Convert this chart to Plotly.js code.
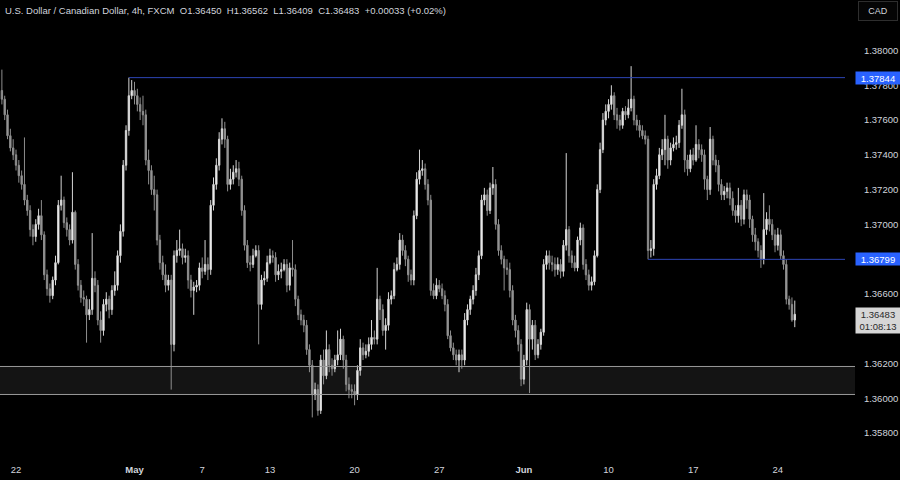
<!DOCTYPE html>
<html><head><meta charset="utf-8">
<script src="https://cdn.plot.ly/plotly-3.0.1.min.js"></script>
<style>html,body{margin:0;padding:0;background:#000;}#chart{width:900px;height:480px;}</style>
</head><body><div id="chart"></div>
<script>
// USD/CAD 4h, FXCM — OHLC per bar (first bar = Apr 19, last bar = Jun 25)
const openP = [1.3777,1.3772,1.3763,1.3751,1.3744,1.3740,1.3734,1.3728,1.3723,1.3714,
1.3708,1.3697,1.3693,1.3700,1.3705,1.3694,1.3671,1.3663,1.3659,1.3668,
1.3678,1.3711,1.3714,1.3701,1.3697,1.3691,1.3707,1.3677,1.3665,1.3658,
1.3657,1.3648,1.3651,1.3669,1.3665,1.3645,1.3639,1.3654,1.3657,1.3651,
1.3662,1.3665,1.3682,1.3696,1.3734,1.3754,1.3774,1.3777,1.3774,1.3769,
1.3765,1.3763,1.3737,1.3731,1.3720,1.3717,1.3691,1.3678,1.3671,1.3665,
1.3668,1.3631,1.3682,1.3685,1.3686,1.3681,1.3682,1.3668,1.3662,1.3664,
1.3665,1.3675,1.3673,1.3677,1.3674,1.3711,1.3723,1.3734,1.3749,1.3755,
1.3749,1.3723,1.3726,1.3730,1.3732,1.3726,1.3708,1.3688,1.3678,1.3677,
1.3682,1.3685,1.3654,1.3668,1.3669,1.3678,1.3682,1.3681,1.3671,1.3673,
1.3674,1.3677,1.3665,1.3675,1.3674,1.3657,1.3648,1.3645,1.3642,1.3628,
1.3619,1.3602,1.3605,1.3593,1.3622,1.3613,1.3628,1.3619,1.3617,1.3622,
1.3625,1.3634,1.3622,1.3608,1.3605,1.3604,1.3602,1.3616,1.3629,1.3625,
1.3627,1.3631,1.3635,1.3634,1.3657,1.3651,1.3639,1.3642,1.3657,1.3659,
1.3674,1.3677,1.3691,1.3685,1.3680,1.3671,1.3668,1.3705,1.3726,1.3731,
1.3732,1.3723,1.3714,1.3662,1.3659,1.3665,1.3663,1.3659,1.3654,1.3636,
1.3629,1.3625,1.3622,1.3625,1.3622,1.3645,1.3651,1.3657,1.3662,1.3671,
1.3682,1.3714,1.3717,1.3708,1.3721,1.3723,1.3700,1.3685,1.3680,1.3675,
1.3674,1.3662,1.3645,1.3639,1.3631,1.3611,1.3622,1.3651,1.3634,1.3642,
1.3625,1.3631,1.3638,1.3677,1.3682,1.3678,1.3677,1.3674,1.3677,1.3673,
1.3688,1.3697,1.3682,1.3678,1.3675,1.3691,1.3698,1.3677,1.3671,1.3665,
1.3667,1.3682,1.3720,1.3743,1.3760,1.3765,1.3769,1.3774,1.3763,1.3760,
1.3757,1.3765,1.3763,1.3767,1.3772,1.3760,1.3757,1.3754,1.3751,1.3749,
1.3685,1.3686,1.3723,1.3728,1.3740,1.3743,1.3749,1.3737,1.3744,1.3746,
1.3747,1.3757,1.3763,1.3737,1.3732,1.3740,1.3737,1.3746,1.3743,1.3740,
1.3726,1.3720,1.3749,1.3737,1.3734,1.3723,1.3717,1.3719,1.3721,1.3715,
1.3708,1.3705,1.3711,1.3703,1.3717,1.3714,1.3703,1.3694,1.3690,1.3685,
1.3680,1.3697,1.3703,1.3700,1.3694,1.3688,1.3694,1.3682,1.3677,1.3657,
1.3654,1.36450];
const highP = [1.3789,1.3774,1.3766,1.3755,1.3749,1.3743,1.3737,1.3731,1.3750,1.3717,
1.3711,1.3700,1.3703,1.3709,1.3714,1.3696,1.3674,1.3666,1.3670,1.3682,
1.3714,1.3728,1.3716,1.3704,1.3700,1.3730,1.3708,1.3680,1.3668,1.3662,
1.3659,1.3657,1.3695,1.3673,1.3668,1.3650,1.3657,1.3661,1.3659,1.3665,
1.3673,1.3685,1.3700,1.3737,1.3757,1.37844,1.3783,1.3782,1.3778,1.3773,
1.3774,1.3766,1.3743,1.3734,1.3728,1.3720,1.3694,1.3682,1.3677,1.3671,
1.3671,1.3685,1.3691,1.3697,1.3689,1.3686,1.3685,1.3671,1.3667,1.3668,
1.3678,1.3681,1.3691,1.3681,1.3714,1.3727,1.3738,1.3753,1.3761,1.3759,
1.3751,1.3732,1.3734,1.3737,1.3736,1.3728,1.3711,1.3691,1.3682,1.3686,
1.3688,1.3688,1.3671,1.3673,1.3682,1.3686,1.3685,1.3684,1.3677,1.3678,
1.3680,1.3680,1.3678,1.3691,1.3677,1.3659,1.3651,1.3648,1.3645,1.3631,
1.3622,1.3609,1.3608,1.3625,1.3628,1.3639,1.3631,1.3623,1.3625,1.3639,
1.3640,1.3636,1.3625,1.3612,1.3608,1.3608,1.3619,1.3634,1.3632,1.3631,
1.3635,1.3645,1.3639,1.3675,1.3659,1.3654,1.3646,1.3661,1.3662,1.3678,
1.3681,1.3695,1.3694,1.3688,1.3682,1.3674,1.3708,1.3730,1.3743,1.3737,
1.3735,1.3726,1.3717,1.3666,1.3669,1.3668,1.3666,1.3662,1.3657,1.3639,
1.3632,1.3628,1.3628,1.3628,1.3649,1.3654,1.3659,1.3665,1.3675,1.3685,
1.3717,1.3721,1.3720,1.3724,1.3733,1.3726,1.3703,1.3688,1.3682,1.3680,
1.3678,1.3665,1.3648,1.3642,1.3634,1.3625,1.3655,1.3654,1.3645,1.3645,
1.3634,1.3640,1.3680,1.3685,1.3685,1.3682,1.3681,1.3681,1.3680,1.3691,
1.3741,1.3699,1.3685,1.3682,1.3693,1.3701,1.3700,1.3680,1.3674,1.3670,
1.3685,1.3723,1.3747,1.3764,1.3769,1.3772,1.3780,1.3776,1.3767,1.3763,
1.3767,1.3768,1.3772,1.3791,1.3774,1.3763,1.3760,1.3757,1.3754,1.3751,
1.3691,1.3726,1.3732,1.3744,1.3749,1.3763,1.3751,1.3747,1.3750,1.3751,
1.3760,1.3778,1.3766,1.3740,1.3743,1.3744,1.3757,1.3749,1.3746,1.3743,
1.3728,1.3756,1.3751,1.3740,1.3737,1.3726,1.3722,1.3724,1.3724,1.3719,
1.3711,1.3721,1.3714,1.3720,1.3720,1.3717,1.3705,1.3698,1.3692,1.3688,
1.3718,1.3707,1.3711,1.3703,1.3697,1.3698,1.3697,1.3685,1.3680,1.3659,
1.3658,1.36562];
const lowP = [1.3769,1.3760,1.3749,1.3742,1.3737,1.3731,1.3724,1.3720,1.3711,1.3705,
1.3693,1.3688,1.3690,1.3697,1.3691,1.3668,1.3659,1.3655,1.3657,1.3665,
1.3677,1.3708,1.3698,1.3693,1.3688,1.3689,1.3674,1.3662,1.3655,1.3653,
1.3632,1.3645,1.3648,1.3661,1.3642,1.3632,1.3636,1.3650,1.3646,1.3648,
1.3659,1.3662,1.3678,1.3693,1.3731,1.3751,1.3772,1.3769,1.3765,1.3760,
1.3757,1.3734,1.3723,1.3717,1.3708,1.3688,1.3674,1.3668,1.3661,1.3662,
1.3605,1.3627,1.3678,1.3682,1.3677,1.3678,1.3663,1.3658,1.3648,1.3661,
1.3662,1.3669,1.3671,1.3668,1.3671,1.3708,1.3720,1.3731,1.3746,1.3744,
1.3719,1.3720,1.3723,1.3727,1.3722,1.3705,1.3685,1.3675,1.3673,1.3675,
1.3681,1.3631,1.3651,1.3665,1.3667,1.3677,1.3678,1.3667,1.3668,1.3669,
1.3673,1.3661,1.3662,1.3670,1.3653,1.3645,1.3642,1.3638,1.3625,1.3615,
1.3589,1.3599,1.3590,1.3591,1.3608,1.3611,1.3615,1.3613,1.3615,1.3619,
1.3622,1.3617,1.3604,1.3600,1.3600,1.3596,1.3599,1.3613,1.3622,1.3623,
1.3624,1.3628,1.3631,1.3631,1.3645,1.3636,1.3628,1.3639,1.3654,1.3657,
1.3673,1.3674,1.3682,1.3676,1.3667,1.3665,1.3665,1.3703,1.3723,1.3728,
1.3720,1.3711,1.3659,1.3657,1.3657,1.3661,1.3657,1.3650,1.3634,1.3627,
1.3622,1.3619,1.3615,1.3617,1.3619,1.3642,1.3648,1.3654,1.3659,1.3668,
1.3680,1.3711,1.3705,1.3706,1.3717,1.3697,1.3682,1.3677,1.3662,1.3671,
1.3658,1.3642,1.3635,1.3627,1.3607,1.3608,1.3619,1.3603,1.3628,1.3622,
1.3623,1.3628,1.3636,1.3674,1.3674,1.3673,1.3670,1.3671,1.3669,1.3670,
1.3685,1.3678,1.3675,1.3673,1.3673,1.3688,1.3674,1.3668,1.3662,1.3662,
1.3665,1.3681,1.3718,1.3741,1.3757,1.3761,1.3766,1.3760,1.3755,1.3754,
1.3755,1.3760,1.3761,1.3765,1.3757,1.3754,1.3750,1.3749,1.3746,1.36799,
1.3681,1.3682,1.3720,1.3726,1.3737,1.3734,1.3732,1.3734,1.3742,1.3743,
1.3744,1.3755,1.3730,1.3728,1.3730,1.3734,1.3736,1.3738,1.3736,1.3720,
1.3714,1.3717,1.3734,1.3730,1.3719,1.3714,1.3714,1.3715,1.3711,1.3705,
1.3701,1.3701,1.3699,1.3700,1.3709,1.3698,1.3690,1.3685,1.3681,1.3675,
1.3677,1.3694,1.3696,1.3691,1.3684,1.3685,1.3680,1.3674,1.3654,1.3651,
1.3644,1.36409];
const closeP = [1.3772,1.3763,1.3751,1.3744,1.3740,1.3734,1.3728,1.3723,1.3714,1.3708,
1.3697,1.3693,1.3700,1.3705,1.3694,1.3671,1.3663,1.3659,1.3668,1.3678,
1.3711,1.3714,1.3701,1.3697,1.3691,1.3707,1.3677,1.3665,1.3658,1.3657,
1.3648,1.3651,1.3669,1.3665,1.3645,1.3639,1.3654,1.3657,1.3651,1.3662,
1.3665,1.3682,1.3696,1.3734,1.3754,1.3774,1.3777,1.3774,1.3769,1.3765,
1.3763,1.3737,1.3731,1.3720,1.3717,1.3691,1.3678,1.3671,1.3665,1.3668,
1.3631,1.3682,1.3685,1.3686,1.3681,1.3682,1.3668,1.3662,1.3664,1.3665,
1.3675,1.3673,1.3677,1.3674,1.3711,1.3723,1.3734,1.3749,1.3755,1.3749,
1.3723,1.3726,1.3730,1.3732,1.3726,1.3708,1.3688,1.3678,1.3677,1.3682,
1.3685,1.3654,1.3668,1.3669,1.3678,1.3682,1.3681,1.3671,1.3673,1.3674,
1.3677,1.3665,1.3675,1.3674,1.3657,1.3648,1.3645,1.3642,1.3628,1.3619,
1.3602,1.3605,1.3593,1.3622,1.3613,1.3628,1.3619,1.3617,1.3622,1.3625,
1.3634,1.3622,1.3608,1.3605,1.3604,1.3602,1.3616,1.3629,1.3625,1.3627,
1.3631,1.3635,1.3634,1.3657,1.3651,1.3639,1.3642,1.3657,1.3659,1.3674,
1.3677,1.3691,1.3685,1.3680,1.3671,1.3668,1.3705,1.3726,1.3731,1.3732,
1.3723,1.3714,1.3662,1.3659,1.3665,1.3663,1.3659,1.3654,1.3636,1.3629,
1.3625,1.3622,1.3625,1.3622,1.3645,1.3651,1.3657,1.3662,1.3671,1.3682,
1.3714,1.3717,1.3708,1.3721,1.3723,1.3700,1.3685,1.3680,1.3675,1.3674,
1.3662,1.3645,1.3639,1.3631,1.3611,1.3622,1.3651,1.3634,1.3642,1.3625,
1.3631,1.3638,1.3677,1.3682,1.3678,1.3677,1.3674,1.3677,1.3673,1.3688,
1.3697,1.3682,1.3678,1.3675,1.3691,1.3698,1.3677,1.3671,1.3665,1.3667,
1.3682,1.3720,1.3743,1.3760,1.3765,1.3769,1.3774,1.3763,1.3760,1.3757,
1.3765,1.3763,1.3767,1.3772,1.3760,1.3757,1.3754,1.3751,1.3749,1.3685,
1.3686,1.3723,1.3728,1.3740,1.3743,1.3749,1.3737,1.3744,1.3746,1.3747,
1.3757,1.3763,1.3737,1.3732,1.3740,1.3737,1.3746,1.3743,1.3740,1.3726,
1.3720,1.3749,1.3737,1.3734,1.3723,1.3717,1.3719,1.3721,1.3715,1.3708,
1.3705,1.3711,1.3703,1.3717,1.3714,1.3703,1.3694,1.3690,1.3685,1.3680,
1.3697,1.3703,1.3700,1.3694,1.3688,1.3694,1.3682,1.3677,1.3657,1.3654,
1.3645,1.36483];

// Date tick labels (bar index of the first bar of each labelled day)
const dayTickBars = [5, 47, 71, 95, 125, 155, 185, 215, 245, 275];
const dayTickLabels = ['22', '<b>May</b>', '7', '13', '20', '27', '<b>Jun</b>', '10', '17', '24'];
// price-scale labels that are visible (1.364 and 1.368 sit under the price tags)
const priceTicks = [1.358, 1.360, 1.362, 1.366, 1.370, 1.372, 1.374, 1.376, 1.378, 1.380];

// Levels
const resistanceLevel = 1.37844, resistanceFromBar = 45;
const supportLevel = 1.36799, supportFromBar = 229;
const zoneLow = 1.36022, zoneHigh = 1.36183;
const lastPrice = 1.36483, countdown = '01:08:13';
const headerParts = ['U.S. Dollar / Canadian Dollar, 4h, FXCM', 'O1.36450', 'H1.36562', 'L1.36409', 'C1.36483', '+0.00033 (+0.02%)'];

const barIndex = openP.map((_, k) => k);
const PLOT_W = 845, PLOT_H = 452;
const xRange = [-0.67, 298.8];
const yRange = [1.356912, 1.382904];
const txt = '#d1d4dc';
const fam = 'Liberation Sans, Arial, sans-serif';

const trace = {
  type: 'candlestick', x: barIndex, open: openP, high: highP, low: lowP, close: closeP,
  increasing: {line: {color: '#d4d4d4', width: 1}, fillcolor: '#ffffff'},
  decreasing: {line: {color: '#8e8e8e', width: 1}, fillcolor: '#9a9a9a'},
  whiskerwidth: 0, hoverinfo: 'skip', showlegend: false
};

const annotations = [{
  xref: 'paper', yref: 'paper', x: 3 / PLOT_W, y: 1 - 11 / PLOT_H,
  xanchor: 'left', yanchor: 'middle', text: headerParts.join('&nbsp;&nbsp;'), showarrow: false,
  font: {family: fam, size: 9.5, color: txt}
}];
const boxX = 855 / PLOT_W;
annotations.push({xref: 'paper', yref: 'y', x: boxX, y: resistanceLevel, xanchor: 'left', yanchor: 'middle',
  text: resistanceLevel.toFixed(5), showarrow: false, bgcolor: '#2962ff', width: 44, height: 12, borderpad: 0,
  font: {family: fam, size: 9.5, color: '#ffffff'}});
annotations.push({xref: 'paper', yref: 'y', x: boxX, y: supportLevel, xanchor: 'left', yanchor: 'middle',
  text: supportLevel.toFixed(5), showarrow: false, bgcolor: '#2962ff', width: 44, height: 12, borderpad: 0,
  font: {family: fam, size: 9.5, color: '#ffffff'}});
annotations.push({xref: 'paper', yref: 'y', x: boxX, y: lastPrice, xanchor: 'left', yanchor: 'middle', yshift: -6,
  text: lastPrice.toFixed(5) + '<br>' + countdown, showarrow: false, bgcolor: '#d6d6d6', width: 44, height: 25, borderpad: 0,
  font: {family: fam, size: 9.5, color: '#2a2a2a'}});
annotations.push({xref: 'paper', yref: 'paper', x: 878 / PLOT_W, y: 1 - 11 / PLOT_H, xanchor: 'center', yanchor: 'middle',
  text: 'CAD', showarrow: false, bgcolor: '#050505', bordercolor: '#2e2e2e', borderwidth: 1, borderpad: 4, width: 30,
  font: {family: fam, size: 9, color: txt}});

const shapes = [
  {type: 'rect', xref: 'paper', yref: 'y', x0: 0, x1: 855 / PLOT_W, y0: zoneLow, y1: zoneHigh,
   fillcolor: '#141414', line: {width: 0}, layer: 'below'},
  {type: 'line', xref: 'paper', yref: 'y', x0: 0, x1: 855 / PLOT_W, y0: zoneHigh, y1: zoneHigh, line: {color: '#9a9a9a', width: 1}},
  {type: 'line', xref: 'paper', yref: 'y', x0: 0, x1: 855 / PLOT_W, y0: zoneLow, y1: zoneLow, line: {color: '#9a9a9a', width: 1}},
  {type: 'line', xref: 'x', yref: 'y', x0: resistanceFromBar, x1: xRange[1], y0: resistanceLevel, y1: resistanceLevel,
   line: {color: '#2d45b5', width: 1}},
  {type: 'line', xref: 'x', yref: 'y', x0: supportFromBar, x1: xRange[1], y0: supportLevel, y1: supportLevel,
   line: {color: '#2d45b5', width: 1}}
];

const layout = {
  width: 900, height: 480,
  paper_bgcolor: '#000000', plot_bgcolor: '#000000',
  margin: {l: 0, r: 900 - PLOT_W, t: 0, b: 480 - PLOT_H},
  showlegend: false,
  xaxis: {range: xRange, rangeslider: {visible: false}, showgrid: false, zeroline: false, showline: false,
    tickmode: 'array', tickvals: dayTickBars, ticktext: dayTickLabels,
    ticks: 'outside', ticklen: 9, tickcolor: 'rgba(0,0,0,0)',
    tickfont: {family: fam, size: 9.5, color: txt}, fixedrange: true},
  yaxis: {range: yRange, side: 'right', showgrid: false, zeroline: false, showline: false,
    tickmode: 'array', tickvals: priceTicks, tickformat: '.5f',
    ticks: 'outside', ticklen: 16, tickcolor: 'rgba(0,0,0,0)',
    tickfont: {family: fam, size: 9.5, color: txt}, fixedrange: true},
  shapes: shapes,
  annotations: annotations
};

Plotly.newPlot('chart', [trace], layout, {staticPlot: true, displayModeBar: false});
</script>
</body></html>
